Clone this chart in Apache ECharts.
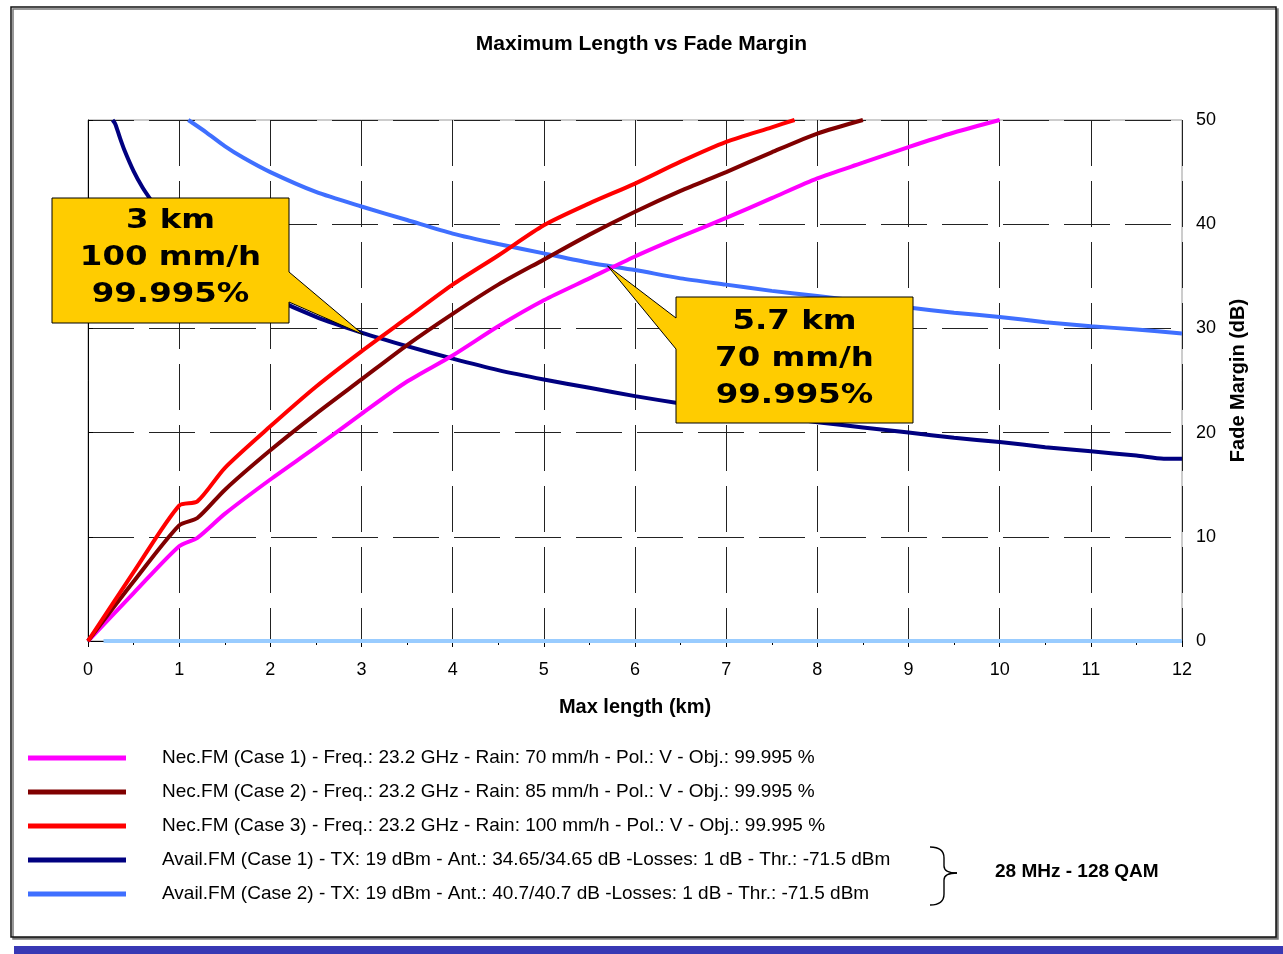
<!DOCTYPE html>
<html>
<head>
<meta charset="utf-8">
<script src="https://cdn.jsdelivr.net/npm/echarts@6/dist/echarts.min.js"></script>
<style>
  html, body { margin: 0; padding: 0; background: #fff; }
  #chart { width: 1283px; height: 954px; }
</style>
</head>
<body>
<div id="chart"></div>
<script>
// lengths (km) and fade margins (dB)
const lenNec1 = [0, 0.5, 1, 1.2, 1.5, 2, 2.5, 3, 3.5, 4, 4.5, 5, 5.5, 6, 6.5, 7, 7.5, 8, 8.5, 9, 9.5, 10];
const fmNec1 = [0, 4.6, 9.1, 9.9, 12.2, 15.5, 18.6, 21.8, 24.9, 27.4, 30.2, 32.7, 34.8, 36.9, 38.8, 40.6, 42.5, 44.4, 45.9, 47.4, 48.8, 50];

const lenNec2 = [0, 0.5, 1, 1.2, 1.5, 2, 2.5, 3, 3.5, 4, 4.5, 5, 5.5, 6, 6.5, 7, 7.5, 8, 8.5];
const fmNec2 = [0, 5.7, 11.1, 11.8, 14.5, 18.3, 21.8, 25.1, 28.4, 31.4, 34.2, 36.6, 39.0, 41.2, 43.2, 45.0, 46.9, 48.7, 50];

const lenNec3 = [0, 0.5, 1, 1.2, 1.5, 2, 2.5, 3, 3.5, 4, 4.5, 5, 5.5, 6, 6.5, 7, 7.5, 7.75];
const fmNec3 = [0, 6.6, 13.0, 13.4, 16.6, 20.6, 24.4, 27.8, 31.0, 34.2, 37.0, 39.9, 42.0, 43.9, 46.0, 47.9, 49.3, 50];

const lenAvail1 = [0.27, 0.3, 0.35, 0.4, 0.5, 0.6, 0.7, 0.8, 1, 1.5, 2, 2.5, 3, 3.5, 4, 4.5, 5, 5.5, 6, 6.5, 7, 7.5, 8, 8.5, 9, 9.5, 10, 10.5, 11, 11.5, 11.8, 12];
const fmAvail1 = [50, 49.6, 48.3, 47.1, 45.1, 43.5, 42.2, 41.0, 39.1, 35.6, 33.1, 31.1, 29.6, 28.3, 27.1, 26.0, 25.1, 24.3, 23.5, 22.8, 22.2, 21.6, 21.0, 20.5, 20.0, 19.5, 19.1, 18.6, 18.2, 17.8, 17.5, 17.5];

const lenAvail2 = [1.1, 1.3, 1.5, 1.7, 2, 2.5, 3, 3.5, 4, 4.5, 5, 5.5, 6, 6.5, 7, 7.5, 8, 8.5, 9, 9.5, 10, 10.5, 11, 11.5, 12];
const fmAvail2 = [50, 48.8, 47.5, 46.4, 45.0, 43.1, 41.7, 40.4, 39.1, 38.1, 37.2, 36.3, 35.6, 34.8, 34.2, 33.6, 33.1, 32.6, 32.0, 31.5, 31.1, 30.6, 30.2, 29.9, 29.5];

// flat line along the x axis
const lenZero = [0.17, 12];
const fmZero = [0, 0];

const names = [
  'Nec.FM (Case 1) - Freq.: 23.2 GHz - Rain: 70 mm/h - Pol.: V - Obj.: 99.995 %',
  'Nec.FM (Case 2) - Freq.: 23.2 GHz - Rain: 85 mm/h - Pol.: V - Obj.: 99.995 %',
  'Nec.FM (Case 3) - Freq.: 23.2 GHz - Rain: 100 mm/h - Pol.: V - Obj.: 99.995 %',
  'Avail.FM (Case 1) - TX: 19 dBm - Ant.: 34.65/34.65 dB -Losses: 1 dB - Thr.: -71.5 dBm',
  'Avail.FM (Case 2) - TX: 19 dBm - Ant.: 40.7/40.7 dB -Losses: 1 dB - Thr.: -71.5 dBm'
];
const colors = ['#ff00ff', '#800000', '#ff0000', '#000080', '#3f6fff'];

// callouts: where the pointer hits, and the text
const calloutTips = [[3.02, 29.4], [5.7, 36.0]];
const calloutTexts = ['3 km\n100 mm/h\n99.995%', '5.7 km\n70 mm/h\n99.995%'];

const FONT = 'Liberation Sans, Arial, sans-serif';

function pairs(xs, ys) {
  return xs.map((x, i) => [x, ys[i]]);
}

function lineSeries(name, color, xs, ys) {
  return {
    name: name,
    type: 'line',
    data: pairs(xs, ys),
    color: color,
    showSymbol: false,
    smooth: 0.25,
    lineStyle: { width: 4, color: color },
    z: 3
  };
}

const chart = echarts.init(document.getElementById('chart'));

const option = {
  backgroundColor: '#fff',
  animation: false,
  title: {
    text: 'Maximum Length vs Fade Margin',
    left: 'center',
    top: 29,
    textStyle: { fontFamily: FONT, fontSize: 21, fontWeight: 'bold', color: '#000' }
  },
  grid: {
    left: 88, right: 101, top: 120, bottom: 313,
    show: true, borderColor: '#9a9a9a', borderWidth: 1
  },
  legend: {
    data: names,
    orient: 'vertical',
    left: 23,
    top: 743,
    icon: 'rect',
    itemWidth: 98,
    itemHeight: 5,
    itemGap: 14,
    textStyle: { fontFamily: FONT, fontSize: 19, color: '#000', padding: [0, 0, 0, 31], lineHeight: 20 }
  },
  xAxis: {
    type: 'value',
    min: 0, max: 12, interval: 1,
    name: 'Max length (km)',
    nameLocation: 'middle',
    nameGap: 56,
    nameTextStyle: { fontFamily: FONT, fontSize: 20, fontWeight: 'bold', color: '#000', verticalAlign: 'top' },
    axisLine: { lineStyle: { color: '#000', width: 1 } },
    axisTick: { inside: false, length: 6, lineStyle: { color: '#000' } },
    minorTick: { show: true, splitNumber: 2, length: 4, lineStyle: { color: '#000' } },
    axisLabel: { fontFamily: FONT, fontSize: 18, color: '#000', margin: 20 },
    splitLine: { show: true, lineStyle: { color: '#222', width: 1, type: [46, 15] } }
  },
  yAxis: {
    type: 'value',
    position: 'right',
    min: 0, max: 50, interval: 10,
    name: 'Fade Margin (dB)',
    nameLocation: 'middle',
    nameGap: 46,
    nameRotate: 90,
    nameTextStyle: { fontFamily: FONT, fontSize: 20, fontWeight: 'bold', color: '#000' },
    axisLine: { show: true, lineStyle: { color: '#000', width: 1 } },
    axisTick: { show: true, inside: false, length: 5, lineStyle: { color: '#000' } },
    axisLabel: { fontFamily: FONT, fontSize: 18, color: '#000', margin: 14 },
    splitLine: { show: true, lineStyle: { color: '#222', width: 1, type: [46, 15] } }
  },
  series: [
    {
      name: 'zero',
      type: 'line',
      data: pairs(lenZero, fmZero),
      showSymbol: false,
      lineStyle: { width: 4, color: '#99ccff' },
      z: 2
    },
    lineSeries(names[3], colors[3], lenAvail1, fmAvail1),
    lineSeries(names[4], colors[4], lenAvail2, fmAvail2),
    lineSeries(names[0], colors[0], lenNec1, fmNec1),
    lineSeries(names[1], colors[1], lenNec2, fmNec2),
    lineSeries(names[2], colors[2], lenNec3, fmNec3)
  ]
};

chart.setOption(option);

// callout boxes (pixel layout), pointer tip from the data coords
const boxes = [
  { x0: 52, y0: 198, x1: 289, y1: 323, side: 'right', b0: 272, b1: 302, ty: 258 },
  { x0: 676, y0: 297, x1: 913, y1: 423, side: 'left', b0: 318, b1: 349, ty: 359 }
];

function calloutShape(b, tip) {
  if (b.side === 'right') {
    return [[b.x0, b.y0], [b.x1, b.y0], [b.x1, b.b0], tip, [b.x1, b.b1], [b.x1, b.y1], [b.x0, b.y1]];
  }
  return [[b.x0, b.y0], [b.x1, b.y0], [b.x1, b.y1], [b.x0, b.y1], [b.x0, b.b1], tip, [b.x0, b.b0]];
}

const braceStyle = { fill: null, stroke: '#000', lineWidth: 1.4 };

const graphics = [
  {
    type: 'rect', z: -1, silent: true,
    shape: { x: 11, y: 7, width: 1265, height: 930 },
    style: { fill: '#fff', stroke: '#111', lineWidth: 1.5, shadowColor: '#777', shadowOffsetX: 2, shadowOffsetY: 2 }
  },
  {
    type: 'rect', silent: true,
    shape: { x: 14, y: 946, width: 1269, height: 8 },
    style: { fill: '#3838b4' }
  },
  // brace "}"
  { type: 'bezierCurve', silent: true, shape: { x1: 930, y1: 847, cpx1: 944, cpy1: 847, x2: 944, y2: 858 }, style: braceStyle },
  { type: 'line', silent: true, shape: { x1: 944, y1: 858, x2: 944, y2: 866 }, style: braceStyle },
  { type: 'bezierCurve', silent: true, shape: { x1: 944, y1: 866, cpx1: 944, cpy1: 873, x2: 957, y2: 873 }, style: braceStyle },
  { type: 'bezierCurve', silent: true, shape: { x1: 957, y1: 873, cpx1: 944, cpy1: 873, x2: 944, y2: 880 }, style: braceStyle },
  { type: 'line', silent: true, shape: { x1: 944, y1: 880, x2: 944, y2: 894 }, style: braceStyle },
  { type: 'bezierCurve', silent: true, shape: { x1: 944, y1: 894, cpx1: 944, cpy1: 905, x2: 930, y2: 905 }, style: braceStyle },
  {
    type: 'text', silent: true,
    x: 995, y: 872,
    style: { text: '28 MHz - 128 QAM', fontFamily: FONT, fontSize: 19, fontWeight: 'bold', fill: '#000', verticalAlign: 'middle' }
  }
];

boxes.forEach((b, i) => {
  const tip = chart.convertToPixel({ gridIndex: 0 }, calloutTips[i]);
  graphics.push({
    type: 'polygon', z: 50, silent: true,
    shape: { points: calloutShape(b, tip) },
    style: { fill: '#ffcc00', stroke: '#000', lineWidth: 1 }
  });
  graphics.push({
    type: 'text', z: 51, silent: true,
    x: (b.x0 + b.x1) / 2, y: b.ty,
    scaleX: 1.2,
    style: {
      text: calloutTexts[i], fontFamily: 'DejaVu Sans, Verdana, sans-serif', fontSize: 27, fontWeight: 'bold',
      fill: '#000', align: 'center', verticalAlign: 'middle', lineHeight: 37
    }
  });
});

chart.setOption({ graphic: graphics });

window.addEventListener('resize', function () {
  chart.resize();
});
</script>
</body>
</html>
